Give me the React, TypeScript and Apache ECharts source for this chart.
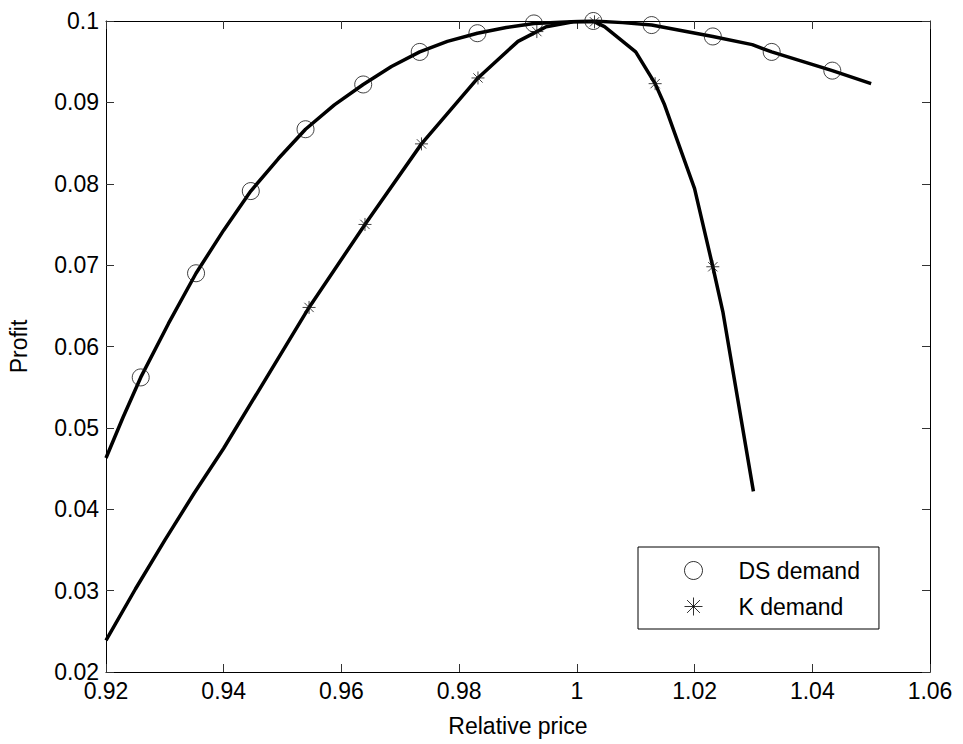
import React, { useEffect, useRef } from "react";
import * as echarts from "echarts";

// Axis ranges / ticks
const xMin = 0.92;
const xMax = 1.06;
const xStep = 0.02;
const yMin = 0.02;
const yMax = 0.1;
const yStep = 0.01;

// DS demand curve (line)
const dsLineX = [0.92, 0.9229, 0.9259, 0.9306, 0.9353, 0.94, 0.9446, 0.9493, 0.9539, 0.9588, 0.9637, 0.9685, 0.9733, 0.978, 0.9831, 0.988, 0.9927, 1.0, 1.0028, 1.0078, 1.0127, 1.0231, 1.0298, 1.0331, 1.0434, 1.05];
const dsLineY = [0.0463, 0.0513, 0.0562, 0.0628, 0.069, 0.0743, 0.0791, 0.0831, 0.0867, 0.0897, 0.0922, 0.0944, 0.0962, 0.0975, 0.0985, 0.0992, 0.0997, 0.09995, 0.1, 0.0998, 0.0995, 0.0981, 0.0971, 0.0962, 0.0939, 0.0923];
// DS demand markers
const dsMarkX = [0.9259, 0.9353, 0.9446, 0.9539, 0.9637, 0.9733, 0.9831, 0.9927, 1.0028, 1.0127, 1.0231, 1.0331, 1.0434];
const dsMarkY = [0.0562, 0.069, 0.0791, 0.0867, 0.0922, 0.0962, 0.0985, 0.0997, 0.1, 0.0995, 0.0981, 0.0962, 0.0939];

// K demand curve (line)
const kLineX = [0.92, 0.925, 0.93, 0.935, 0.94, 0.9545, 0.964, 0.9736, 0.9832, 0.99, 0.9932, 0.9948, 0.9994, 1.003, 1.0047, 1.01, 1.0133, 1.0149, 1.02, 1.0231, 1.0248, 1.03];
const kLineY = [0.0239, 0.0302, 0.0362, 0.042, 0.0475, 0.0648, 0.075, 0.0849, 0.093, 0.0975, 0.0987, 0.0993, 0.0999, 0.0999, 0.0993, 0.0962, 0.0923, 0.0897, 0.0794, 0.0698, 0.0643, 0.0422];
// K demand markers
const kMarkX = [0.9545, 0.964, 0.9736, 0.9832, 0.9932, 1.003, 1.0133, 1.0231];
const kMarkY = [0.0648, 0.075, 0.0849, 0.093, 0.0987, 0.0999, 0.0923, 0.0698];

const seriesNames = ["DS demand", "K demand"];
const xName = "Relative price";
const yName = "Profit";

const zip = (xs: number[], ys: number[]) => xs.map((x, i) => [x, ys[i]]);

const FONT = '"Liberation Sans", Arial, Helvetica, sans-serif';
const STAR = "path://M7,0L7,14M0,7L14,7M2,2L12,12M2,12L12,2";
const fmt = (v: number) => String(+v.toFixed(2));

export default function App() {
  const ref = useRef<HTMLDivElement>(null);
  useEffect(() => {
    if (!ref.current) return;
    const chart = echarts.init(ref.current, undefined, { renderer: "svg" });
    const axisLine = { show: true, onZero: false, lineStyle: { color: "#000", width: 1 } };
    const tick = { show: true, inside: true, length: 8, lineStyle: { color: "#333", width: 1 } };
    const label = { fontSize: 23, fontFamily: FONT, color: "#000", margin: 7 };
    chart.setOption({
      animation: false,
      backgroundColor: "#fff",
      grid: { left: 106, right: 33, top: 21, bottom: 72, containLabel: false, outerBoundsMode: "none" },
      xAxis: [
        {
          type: "value", min: xMin, max: xMax, interval: xStep, position: "bottom",
          axisLine, axisTick: tick, splitLine: { show: false },
          axisLabel: { ...label, formatter: fmt },
          name: xName, nameLocation: "middle", nameGap: 42,
          nameTextStyle: { fontSize: 23, fontFamily: FONT, color: "#000" },
        },
        {
          type: "value", min: xMin, max: xMax, interval: xStep, position: "top",
          axisLine, axisTick: tick, splitLine: { show: false }, axisLabel: { show: false },
        },
      ],
      yAxis: [
        {
          type: "value", min: yMin, max: yMax, interval: yStep, position: "left",
          axisLine, axisTick: tick, splitLine: { show: false },
          axisLabel: { ...label, formatter: fmt },
          name: yName, nameLocation: "middle", nameGap: 76,
          nameTextStyle: { fontSize: 23, fontFamily: FONT, color: "#000" },
        },
        {
          type: "value", min: yMin, max: yMax, interval: yStep, position: "right",
          axisLine, axisTick: tick, splitLine: { show: false }, axisLabel: { show: false },
        },
      ],
      legend: {
        orient: "vertical", left: 638, top: 547,
        padding: [12, 19, 11, 46],
        itemWidth: 18, itemHeight: 18, itemGap: 13,
        borderColor: "#000", borderWidth: 1, backgroundColor: "#fff",
        textStyle: { fontSize: 23, fontFamily: FONT, color: "#000", padding: [0, 0, 0, 31] },
        data: [
          { name: seriesNames[0], icon: "circle", itemStyle: { color: "rgba(0,0,0,0)", borderColor: "#000", borderWidth: 1 } },
          { name: seriesNames[1], icon: STAR, itemStyle: { color: "rgba(0,0,0,0)", borderColor: "#000", borderWidth: 1 } },
        ],
      },
      series: [
        {
          name: "DS line", type: "line", xAxisIndex: 0, yAxisIndex: 0,
          data: zip(dsLineX, dsLineY), showSymbol: false, symbol: "none",
          lineStyle: { color: "#000", width: 3.5 }, z: 3,
        },
        {
          name: "K line", type: "line", xAxisIndex: 0, yAxisIndex: 0,
          data: zip(kLineX, kLineY), showSymbol: false, symbol: "none",
          lineStyle: { color: "#000", width: 3.5 }, z: 3,
        },
        {
          name: seriesNames[0], type: "scatter", xAxisIndex: 0, yAxisIndex: 0,
          data: zip(dsMarkX, dsMarkY), symbol: "circle", symbolSize: 17,
          itemStyle: { color: "rgba(0,0,0,0)", borderColor: "#111", borderWidth: 1 }, z: 4,
        },
        {
          name: seriesNames[1], type: "scatter", xAxisIndex: 0, yAxisIndex: 0,
          data: zip(kMarkX, kMarkY), symbol: STAR, symbolSize: 13,
          itemStyle: { color: "rgba(0,0,0,0)", borderColor: "#111", borderWidth: 1 }, z: 4,
        },
      ],
    });
    return () => chart.dispose();
  }, []);
  return (
    <div
      ref={ref}
      style={{ position: "fixed", left: 0, top: 0, width: 963, height: 744, background: "#fff" }}
    />
  );
}
